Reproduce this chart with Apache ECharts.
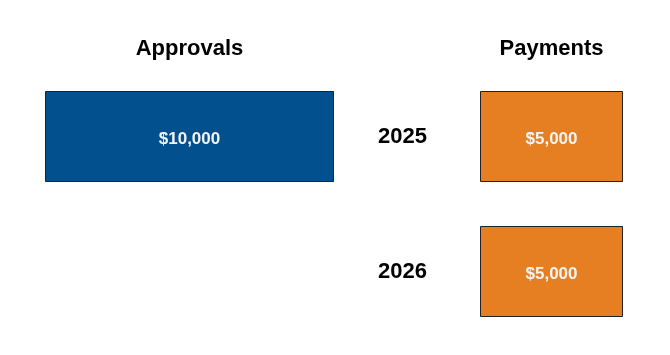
<!DOCTYPE html>
<html>
<head>
<meta charset="utf-8">
<script src="https://cdn.jsdelivr.net/npm/echarts@6/dist/echarts.min.js"></script>
<style>
    html, body { margin: 0; padding: 0; background: #ffffff; }
    #chart { width: 670px; height: 355px; }
</style>
</head>
<body>
<div id="chart"></div>
<script>
var years = ["2025", "2026"];
var approvals = [10000, null];
var payments = [5000, 5000];

var font = "Liberation Sans, Arial, sans-serif";

function money(p) {
    return "$" + Number(p.value).toLocaleString("en-US");
}

function hiddenValueAxis(idx, name, max, inverse) {
    return {
        type: "value",
        gridIndex: idx,
        position: "top",
        min: 0,
        max: max,
        inverse: inverse,
        name: name,
        nameLocation: "middle",
        nameGap: 9,
        nameTextStyle: {
            color: "#000000",
            fontSize: 22,
            fontWeight: "bold",
            fontFamily: font,
            verticalAlign: "bottom"
        },
        axisLine: { show: false },
        axisTick: { show: false },
        axisLabel: { show: false },
        splitLine: { show: false }
    };
}

var myChart = echarts.init(document.getElementById("chart"));

var option = {
    animation: false,
    grid: [
        { left: 45, right: 336, top: 69, bottom: 16 },
        { left: 480, right: 47, top: 69, bottom: 16 }
    ],
    xAxis: [
        hiddenValueAxis(0, "Approvals", 10000, true),
        hiddenValueAxis(1, "Payments", 5000, false)
    ],
    yAxis: [
        {
            type: "category",
            gridIndex: 0,
            data: years,
            inverse: true,
            show: false
        },
        {
            type: "category",
            gridIndex: 1,
            data: years,
            inverse: true,
            axisLine: { show: false },
            axisTick: { show: false },
            axisLabel: {
                margin: 53,
                color: "#000000",
                fontSize: 22,
                fontWeight: "bold",
                fontFamily: font
            }
        }
    ],
    series: [
        {
            name: "Approvals",
            type: "bar",
            xAxisIndex: 0,
            yAxisIndex: 0,
            barWidth: 91,
            data: approvals,
            itemStyle: { color: "#03508f", borderColor: "#222222", borderWidth: 1 },
            label: {
                show: true,
                position: "inside",
                offset: [0, 3],
                formatter: money,
                color: "#f4f4f4",
                fontSize: 17,
                fontWeight: "bold",
                fontFamily: font
            }
        },
        {
            name: "Payments",
            type: "bar",
            xAxisIndex: 1,
            yAxisIndex: 1,
            barWidth: 91,
            data: payments,
            itemStyle: { color: "#e67f22", borderColor: "#222222", borderWidth: 1 },
            label: {
                show: true,
                position: "inside",
                offset: [0, 3],
                formatter: money,
                color: "#f4f4f4",
                fontSize: 17,
                fontWeight: "bold",
                fontFamily: font
            }
        }
    ]
};

myChart.setOption(option);
window.addEventListener("resize", function () {
    myChart.resize();
});
</script>
</body>
</html>
